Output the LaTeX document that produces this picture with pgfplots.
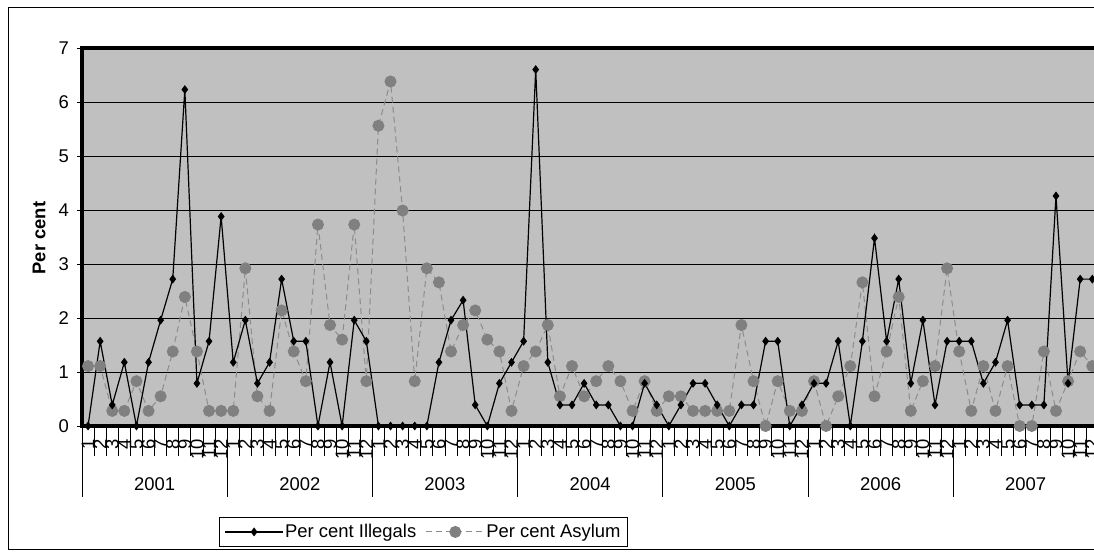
\documentclass[border=0pt]{standalone}
\usepackage{fontspec}
\setmainfont{Liberation Sans}
\usepackage{pgfplots}
\pgfplotsset{compat=1.18}
\usepackage{pgfplotstable}
\definecolor{plotbg}{RGB}{192,192,192}
\definecolor{asyl}{RGB}{128,128,128}
\definecolor{asyline}{RGB}{140,140,140}

\pgfplotstableread{
x ill asy
1 0 1.11
2 1.57 1.11
3 0.39 0.28
4 1.18 0.28
5 0 0.83
6 1.18 0.28
7 1.96 0.55
8 2.72 1.38
9 6.23 2.39
10 0.79 1.38
11 1.57 0.28
12 3.88 0.28
13 1.18 0.28
14 1.96 2.92
15 0.79 0.55
16 1.18 0.28
17 2.72 2.14
18 1.57 1.38
19 1.57 0.83
20 0 3.73
21 1.18 1.87
22 0 1.60
23 1.96 3.73
24 1.57 0.83
25 0 5.56
26 0 6.38
27 0 3.99
28 0 0.83
29 0 2.92
30 1.18 2.66
31 1.96 1.38
32 2.33 1.87
33 0.39 2.14
34 0 1.60
35 0.79 1.38
36 1.18 0.28
37 1.57 1.11
38 6.60 1.38
39 1.18 1.87
40 0.39 0.55
41 0.39 1.11
42 0.79 0.55
43 0.39 0.83
44 0.39 1.11
45 0 0.83
46 0 0.28
47 0.79 0.83
48 0.39 0.28
49 0 0.55
50 0.39 0.55
51 0.79 0.28
52 0.79 0.28
53 0.39 0.28
54 0 0.28
55 0.39 1.87
56 0.39 0.83
57 1.57 0
58 1.57 0.83
59 0 0.28
60 0.39 0.28
61 0.79 0.83
62 0.79 0
63 1.57 0.55
64 0 1.11
65 1.57 2.66
66 3.48 0.55
67 1.57 1.38
68 2.72 2.39
69 0.79 0.28
70 1.96 0.83
71 0.39 1.11
72 1.57 2.92
73 1.57 1.38
74 1.57 0.28
75 0.79 1.11
76 1.18 0.28
77 1.96 1.11
78 0.39 0
79 0.39 0
80 0.39 1.38
81 4.26 0.28
82 0.79 0.83
83 2.72 1.38
84 2.72 1.11
}\data

\begin{document}
\fontsize{18.5}{22}\selectfont
\begin{tikzpicture}
\useasboundingbox (0,0) rectangle (1094bp,-552bp);
\draw[line width=1bp] (8bp,-7bp) rectangle (1120bp,-549bp);
\begin{axis}[
  at={(82bp,-426bp)}, anchor=south west,
  scale only axis, width=1016.4bp, height=378bp,
  xmin=0.5, xmax=84.5, ymin=0, ymax=7,
  clip=false,
  axis background/.style={fill=plotbg},
  axis line style={line width=3.5bp},
  ymajorgrids, grid style={black, line width=0.9bp},
  ytick={0,...,7},
  tick pos=left,
  tick align=outside,
  major tick length=5bp,
  minor tick length=30bp,
  xtick={1,...,84},
  xticklabels={1,2,3,4,5,6,7,8,9,10,11,12,1,2,3,4,5,6,7,8,9,10,11,12,1,2,3,4,5,6,7,8,9,10,11,12,1,2,3,4,5,6,7,8,9,10,11,12,1,2,3,4,5,6,7,8,9,10,11,12,1,2,3,4,5,6,7,8,9,10,11,12,1,2,3,4,5,6,7,8,9,10,11,12},
  major x tick style={draw=none},
  minor xtick={0.5,1.5,...,84.5},
  tick style={black, line width=0.8bp},
  xticklabel style={yshift=-8bp, rotate=90, anchor=east, inner sep=0pt},
  yticklabel style={anchor=east, inner sep=0pt, xshift=-8bp},
  /pgf/number format/assume math mode=true,
  ylabel={\bfseries Per cent},
  every axis y label/.style={at={(axis description cs:-0.0423,0.497)}, rotate=90, anchor=center},
  legend columns=2, reverse legend,
  legend style={at={(axis description cs:0.1348,-0.320)}, anchor=south west,
    draw=black, line width=1bp, fill=white, inner xsep=5bp, inner ysep=5bp,
    nodes={inner sep=1.5bp},
    /tikz/every even column/.append style={column sep=8bp}},
  legend image code/.code={\draw[mark repeat=2,mark phase=2,#1] plot coordinates {(0bp,0bp) (29bp,0bp) (58bp,0bp)};},
]
\addplot[asyline, dash pattern=on 6bp off 4bp, line width=1bp, mark=*, mark size=5.5bp,
  mark options={solid, fill=asyl, draw=asyl}] table[x=x,y=asy]{\data};
\addlegendentry{Per cent Asylum}
\addplot[black, line width=1.2bp, mark=diamond*, mark size=3.5bp,
  mark options={solid, fill=black}] table[x=x,y=ill]{\data};
\addlegendentry{Per cent Illegals}
\pgfplotsinvokeforeach{0.5,12.5,24.5,36.5,48.5,60.5,72.5,84.5}{
  \draw[line width=0.8bp] (axis cs:#1,0) -- ++(0pt,-71bp);
}
\node at (axis cs:6.5,0) [yshift=-58bp] {2001};
\node at (axis cs:18.5,0) [yshift=-58bp] {2002};
\node at (axis cs:30.5,0) [yshift=-58bp] {2003};
\node at (axis cs:42.5,0) [yshift=-58bp] {2004};
\node at (axis cs:54.5,0) [yshift=-58bp] {2005};
\node at (axis cs:66.5,0) [yshift=-58bp] {2006};
\node at (axis cs:78.5,0) [yshift=-58bp] {2007};
\end{axis}
\end{tikzpicture}
\end{document}
